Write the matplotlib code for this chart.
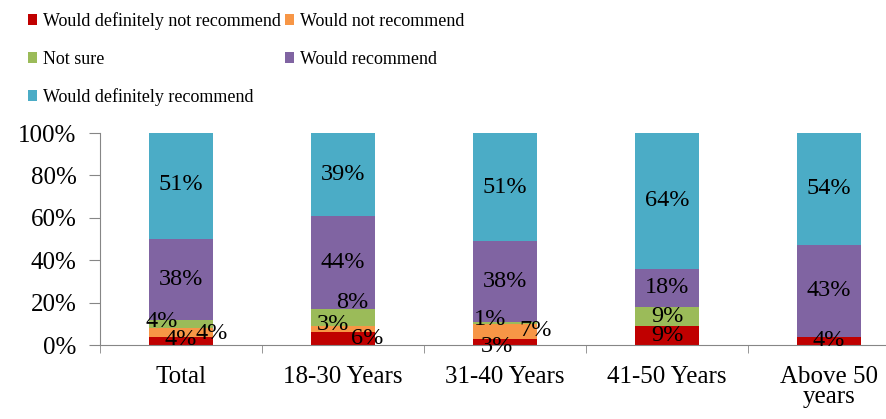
import numpy as np
import matplotlib.pyplot as plt
from matplotlib.patches import Patch

plt.rcParams['font.family'] = ['Liberation Serif', 'DejaVu Serif']

# Data
categories = ['Total', '18-30 Years', '31-40 Years', '41-50 Years', 'Above 50\nyears']
series_names = ['Would definitely not recommend', 'Would not recommend', 'Not sure',
                'Would recommend', 'Would definitely recommend']
def_not = [4, 6, 3, 9, 4]
would_not = [4, 3, 7, 0, 0]
not_sure = [4, 8, 1, 9, 0]
would_rec = [38, 44, 38, 18, 43]
def_rec = [51, 39, 51, 64, 54]
colors = ['#C00000', '#F79646', '#9BBB59', '#8064A2', '#4BACC6']

# Excel shoved some of the small labels around; (category, series) -> (dx, y in %)
label_moves = {
    (0, 0): (0.0, 2.5), (0, 1): (0.19, 5.5), (0, 2): (-0.12, 11),
    (1, 0): (0.15, 3.2), (1, 1): (-0.06, 9.5), (1, 2): (0.06, 20),
    (2, 0): (-0.05, -0.8), (2, 1): (0.19, 7), (2, 2): (-0.09, 12),
    (4, 0): (0.0, 2.2),
}

series = [def_not, would_not, not_sure, would_rec, def_rec]

fig = plt.figure(figsize=(8.87, 4.19), dpi=100)
ax = fig.add_axes([100 / 887, 74 / 419, 810 / 887, 212 / 419])

x = np.arange(len(categories))
bottom = np.zeros(len(categories))
for i, vals in enumerate(series):
    vals = np.array(vals, dtype=float)
    ax.bar(x, vals, 0.4, bottom=bottom, color=colors[i], edgecolor='none', zorder=2)
    for j, v in enumerate(vals):
        if v <= 0:
            continue
        if (j, i) in label_moves:
            dx, yy = label_moves[(j, i)]
        else:
            dx, yy = 0.0, bottom[j] + v / 2
        ax.text(x[j] + dx, yy, f'{int(v)}%', ha='center', va='center',
                fontsize=17.5, color='black', zorder=3)
    bottom += vals

ax.set_xlim(-0.5, len(categories) - 0.5)
ax.set_ylim(0, 100)
ax.set_yticks(np.arange(0, 101, 20))
ax.set_yticklabels([f'{v}%' for v in range(0, 101, 20)], fontsize=18)
ax.set_xticks(x)
ax.set_xticklabels(categories, fontsize=18, linespacing=0.9)
ax.set_xticks(np.arange(len(categories) + 1) - 0.5, minor=True)
ax.tick_params(axis='x', which='major', length=0, pad=15)
ax.tick_params(axis='x', which='minor', length=6, color='#868686', direction='out')
ax.tick_params(axis='y', length=8, color='#868686', direction='out', pad=9)

for s in ['top', 'right']:
    ax.spines[s].set_visible(False)
ax.spines['left'].set_color('#868686')
ax.spines['bottom'].set_color('#868686')

# legend order row by row like the original
order = [0, 2, 4, 1, 3]
handles = [Patch(facecolor=colors[k], edgecolor='none') for k in order]
labels = [series_names[k] for k in order]
fig.legend(handles, labels, loc='upper left', bbox_to_anchor=(18 / 887, 0.995),
           ncol=2, frameon=False, fontsize=13, handlelength=0.5, handleheight=0.55,
           handletextpad=0.35, columnspacing=0.2, labelspacing=1.15, borderaxespad=0.15)

fig.savefig('out.png', dpi=100)
